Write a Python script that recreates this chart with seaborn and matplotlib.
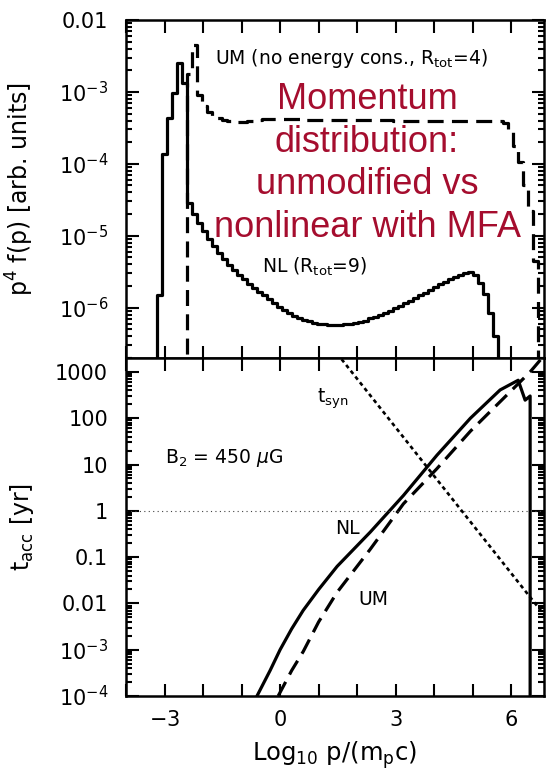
import numpy as np
import pandas as pd
import matplotlib
matplotlib.use("Agg")
import matplotlib.pyplot as plt
import seaborn as sns
from matplotlib.ticker import MultipleLocator, FixedLocator, FixedFormatter, LogLocator, NullFormatter

# ---------------- data ----------------
bin_width = 0.13

# NL spectrum: log10 of p^4 f(p) per bin, bins start at log10 p = -3.19
nl_first_edge = -3.19
nl_log_p4f = [
    -5.83, -3.86, -3.36, -3.01, -2.60, -2.87, -4.55, -4.70, -4.82, -4.93,
    -5.04, -5.14, -5.24, -5.33, -5.40, -5.47, -5.54, -5.60, -5.67, -5.72,
    -5.78, -5.83, -5.88, -5.94, -5.99, -6.03, -6.07, -6.11, -6.14, -6.17,
    -6.19, -6.21, -6.22, -6.23, -6.24, -6.24, -6.24, -6.23, -6.22, -6.21,
    -6.20, -6.18, -6.15, -6.13, -6.10, -6.07, -6.04, -6.01, -5.98, -5.94,
    -5.91, -5.87, -5.83, -5.79, -5.75, -5.71, -5.67, -5.64, -5.60, -5.57,
    -5.54, -5.52, -5.51, -5.55, -5.65, -5.81, -6.07, -6.39,
]

# UM spectrum: bins start at log10 p = -2.41
um_first_edge = -2.41
um_log_p4f = [
    -2.75, -2.35, -3.05, -3.20, -3.28, -3.33, -3.37, -3.39, -3.40, -3.41,
    -3.42, -3.42, -3.41, -3.40, -3.39, -3.38, -3.38, -3.38, -3.38, -3.38,
    -3.38, -3.38, -3.38, -3.39, -3.39, -3.39, -3.39, -3.39, -3.39, -3.39,
    -3.39, -3.39, -3.39, -3.39, -3.39, -3.39, -3.39, -3.39, -3.39, -3.39,
    -3.39, -3.40, -3.40, -3.40, -3.40, -3.40, -3.40, -3.40, -3.40, -3.40,
    -3.40, -3.40, -3.40, -3.40, -3.40, -3.40, -3.41, -3.41, -3.41, -3.41,
    -3.41, -3.41, -3.41, -3.43, -3.55, -3.75, -3.98, -4.30, -4.65, -5.35,
]

# acceleration times (log10 p, log10 t[yr])
acc_nl_logp = [-0.60, -0.26, 0.00, 0.30, 0.60, 1.00, 1.48, 2.34, 3.20, 4.07, 4.94, 5.71, 6.18, 6.36, 6.49, 6.49]
acc_nl_logt = [-4.00, -3.45, -3.00, -2.55, -2.15, -1.70, -1.20, -0.46, 0.33, 1.20, 2.00, 2.61, 2.82, 2.39, 2.48, -6.0]
acc_um_logp = [-0.05, 0.30, 0.60, 1.00, 1.48, 2.34, 3.20, 4.07, 4.94, 5.80, 6.49, 6.90]
acc_um_logt = [-4.00, -3.45, -3.04, -2.40, -1.76, -0.83, 0.15, 0.91, 1.72, 2.43, 3.00, 3.40]
syn_logp = [1.0, 7.0]
syn_logt = [3.9, -2.4]
ref_time = 1.0

top_yticks = [1e-2, 1e-3, 1e-4, 1e-5, 1e-6]
top_yticklabels = ["0.01", r"$10^{-3}$", r"$10^{-4}$", r"$10^{-5}$", r"$10^{-6}$"]
bot_yticks = [1e3, 1e2, 1e1, 1e0, 1e-1, 1e-2, 1e-3, 1e-4]
bot_yticklabels = ["1000", "100", "10", "1", "0.1", "0.01", r"$10^{-3}$", r"$10^{-4}$"]
xticks = [-3, 0, 3, 6]
xticklabels = [r"$-3$", "0", "3", "6"]

red_title = "Momentum\ndistribution:\nunmodified vs\nnonlinear with MFA"

# ---------------- style ----------------
sns.set_theme(style="ticks")
plt.rcParams["font.family"] = ["DejaVu Sans"]
plt.rcParams["mathtext.fontset"] = "dejavusans"
plt.rcParams["mathtext.default"] = "regular"
plt.rcParams["axes.linewidth"] = 1.8
for key in ("text.color", "axes.labelcolor", "xtick.color", "ytick.color", "axes.edgecolor"):
    plt.rcParams[key] = "black"

fig = plt.figure(figsize=(5.49, 7.70), dpi=100)
ax1 = fig.add_axes([0.2295, 0.5351, 0.7614, 0.4390])
ax2 = fig.add_axes([0.2295, 0.0961, 0.7614, 0.4390])

floor = 1e-9


def step_frame(first_edge, logvals):
    n = len(logvals)
    edges = first_edge + bin_width * np.arange(n + 1)
    x = np.concatenate([[edges[0]], edges])
    y = np.concatenate([[floor], 10.0 ** np.asarray(logvals), [floor]])
    return pd.DataFrame({"logp": x, "val": y})


nl_df = step_frame(nl_first_edge, nl_log_p4f)
um_df = step_frame(um_first_edge, um_log_p4f)

ax1.set_yscale("log")
sns.lineplot(data=nl_df, x="logp", y="val", ax=ax1, estimator=None, sort=False,
             drawstyle="steps-post", color="black", lw=2.3)
sns.lineplot(data=um_df, x="logp", y="val", ax=ax1, estimator=None, sort=False,
             drawstyle="steps-post", color="black", lw=2.3, linestyle=(0, (5, 2.6)))

ax2.set_yscale("log")
nl_acc = pd.DataFrame({"logp": acc_nl_logp, "t": 10.0 ** np.asarray(acc_nl_logt)})
um_acc = pd.DataFrame({"logp": acc_um_logp, "t": 10.0 ** np.asarray(acc_um_logt)})
syn = pd.DataFrame({"logp": syn_logp, "t": 10.0 ** np.asarray(syn_logt)})
sns.lineplot(data=nl_acc, x="logp", y="t", ax=ax2, estimator=None, sort=False,
             color="black", lw=2.3)
sns.lineplot(data=um_acc, x="logp", y="t", ax=ax2, estimator=None, sort=False,
             color="black", lw=2.3, linestyle=(0, (5, 2.6)))
sns.lineplot(data=syn, x="logp", y="t", ax=ax2, estimator=None, sort=False,
             color="black", lw=1.9, linestyle=(0, (1.5, 1.3)))
ax2.axhline(ref_time, color="#444444", lw=0.8, linestyle=(0, (1, 3)))

for ax in (ax1, ax2):
    ax.set_xlim(-4, 6.85)
    ax.xaxis.set_major_locator(FixedLocator(xticks))
    ax.xaxis.set_minor_locator(MultipleLocator(1))
    ax.tick_params(which="both", direction="in", top=True, right=True, width=1.5,
                   colors="black", labelsize=15)
    ax.tick_params(axis="y", which="major", length=9, pad=13)
    ax.tick_params(axis="y", which="minor", length=4.5)
    ax.tick_params(axis="x", which="both", length=9, pad=10)
    ax.set_xlabel("")
    ax.set_ylabel("")
    for s in ax.spines.values():
        s.set_linewidth(1.8)
        s.set_color("black")

ax1.set_ylim(2e-7, 1e-2)
ax1.yaxis.set_major_locator(FixedLocator(top_yticks))
ax1.yaxis.set_major_formatter(FixedFormatter(top_yticklabels))
ax1.yaxis.set_minor_locator(LogLocator(base=10, subs=np.arange(2, 10)))
ax1.yaxis.set_minor_formatter(NullFormatter())
ax1.tick_params(axis="x", labelbottom=False)

ax2.set_ylim(1e-4, 2000)
ax2.yaxis.set_major_locator(FixedLocator(bot_yticks))
ax2.yaxis.set_major_formatter(FixedFormatter(bot_yticklabels))
ax2.yaxis.set_minor_locator(LogLocator(base=10, subs=np.arange(2, 10)))
ax2.yaxis.set_minor_formatter(NullFormatter())
ax2.xaxis.set_major_formatter(FixedFormatter(xticklabels))

ax1.set_ylabel(r"p$^4$ f(p) [arb. units]", fontsize=17)
ax1.yaxis.set_label_coords(-0.215, 0.5)
ax2.set_ylabel(r"t$_{acc}$ [yr]", fontsize=17)
ax2.yaxis.set_label_coords(-0.215, 0.5)
ax2.set_xlabel(r"Log$_{10}$ p/(m$_p$c)", fontsize=17.5)
ax2.xaxis.set_label_coords(0.5, -0.175)
ax2.xaxis.label.set_va("center")

# annotations
ax1.text(-1.69, 2.9e-3, r"UM (no energy cons., R$_{tot}$=4)", fontsize=13.5, va="center", ha="left")
ax1.text(-0.47, 3.7e-6, r"NL (R$_{tot}$=9)", fontsize=13.5, va="center", ha="left")
ax1.text(0.5766, 0.575, red_title, transform=ax1.transAxes, ha="center", va="center",
         multialignment="center", fontsize=26, color="#A50D2E",
         family=["Liberation Sans", "DejaVu Sans"], linespacing=1.28, zorder=5)

ax2.text(0.96, 10 ** 2.43, r"t$_{syn}$", fontsize=13.5, va="center", ha="left")
ax2.text(-2.99, 10 ** 1.13, r"B$_2$ = 450 $\mathit{\mu}$G", fontsize=13.5, va="center", ha="left")
ax2.text(1.43, 10 ** -0.39, "NL", fontsize=13.5, va="center", ha="left")
ax2.text(2.03, 10 ** -1.91, "UM", fontsize=13.5, va="center", ha="left")

fig.savefig("out.png", dpi=100)
